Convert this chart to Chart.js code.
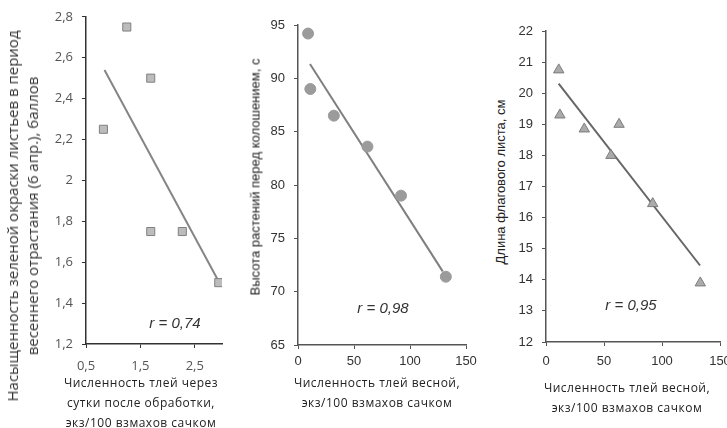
<!DOCTYPE html>
<html>
<head>
<meta charset="utf-8">
<script src="https://cdn.jsdelivr.net/npm/chart.js@4.4.1/dist/chart.umd.min.js"></script>
<style>
  body { margin: 0; width: 727px; height: 428px; overflow: hidden; background: #fff; position: relative; }
  canvas { position: absolute; top: 0; }
  .t { position: absolute; white-space: nowrap; color: #222; line-height: 1; }
  .rot { transform: translate(-50%, -50%) rotate(-90deg); text-align: center; }
  .xt { transform: translateX(-50%); text-align: center; font-family: 'Open Sans'; font-size: 12px; line-height: 20px; letter-spacing: 0.5px; }
  .r { font-family: 'Liberation Sans', Arial; font-style: italic; font-size: 15px; color: #333; transform: translate(-50%, -50%); }
</style>
</head>
<body>
<canvas id="c1" width="200" height="428" style="left:40px"></canvas>
<canvas id="c2" width="220" height="428" style="left:262px"></canvas>
<canvas id="c3" width="232" height="428" style="left:508px"></canvas>

<div class="t rot" style="left:22px;top:216px;font-family:'Open Sans';font-size:15px;line-height:20px;color:#333">Насыщенность зеленой окраски листьев в период<br>весеннего отрастания (6 апр.), баллов</div>
<div class="t xt" style="left:141px;top:373px">Численность тлей через<br>сутки после обработки,<br>экз/100 взмахов сачком</div>
<div class="t r" style="left:175px;top:322px">r = 0,74</div>

<div class="t rot" style="left:255px;top:177px;font-family:'Liberation Sans',Arial;font-size:13px">Высота растений перед колошением, с</div>
<div class="t xt" style="left:377px;top:373px">Численность тлей весной,<br>экз/100 взмахов сачком</div>
<div class="t r" style="left:383px;top:307px">r = 0,98</div>

<div class="t rot" style="left:500px;top:182px;font-family:'Liberation Sans',Arial;font-size:13px">Длина флагового листа, см</div>
<div class="t xt" style="left:627px;top:378px">Численность тлей весной,<br>экз/100 взмахов сачком</div>
<div class="t r" style="left:631px;top:304px">r = 0,95</div>

<script>
// panel 1 — squares
const x1 = [0.82, 1.25, 1.69, 1.69, 2.27, 2.94];
const y1 = [2.25, 2.75, 2.50, 1.75, 1.75, 1.50];
const trend1X = [0.84, 2.91];
const trend1Y = [2.54, 1.52];
const xTicks1 = [0.5, 1.5, 2.5];
const xTickLabels1 = ['0,5', '1,5', '2,5'];
const yTicks1 = [1.2, 1.4, 1.6, 1.8, 2.0, 2.2, 2.4, 2.6, 2.8];
const yTickLabels1 = ['1,2', '1,4', '1,6', '1,8', '2', '2,2', '2,4', '2,6', '2,8'];

// panel 2 — circles
const x2 = [9, 11, 32, 62, 92, 132];
const y2 = [94.2, 89.0, 86.5, 83.6, 79.0, 71.4];
const trend2X = [10.7, 129.2];
const trend2Y = [91.35, 71.9];
const xTicks2 = [0, 50, 100, 150];
const xTickLabels2 = ['0', '50', '100', '150'];
const yTicks2 = [65, 70, 75, 80, 85, 90, 95];
const yTickLabels2 = ['65', '70', '75', '80', '85', '90', '95'];

// panel 3 — triangles
const x3 = [11, 12, 33, 63, 56, 92, 133];
const y3 = [20.75, 19.3, 18.85, 19.0, 18.0, 16.45, 13.9];
const trend3X = [10.9, 132.8];
const trend3Y = [20.31, 14.46];
const xTicks3 = [0, 50, 100, 150];
const xTickLabels3 = ['0', '50', '100', '150'];
const yTicks3 = [12, 13, 14, 15, 16, 17, 18, 19, 20, 21, 22];
const yTickLabels3 = ['12', '13', '14', '15', '16', '17', '18', '19', '20', '21', '22'];

const pts = (xs, ys) => xs.map((x, i) => ({ x: x, y: ys[i] }));

function makePanel(id, p) {
  const ctx = document.getElementById(id).getContext('2d');
  const tickFont = { family: p.font, size: 13 };
  return new Chart(ctx, {
    type: 'scatter',
    data: {
      datasets: [
        {
          data: pts(p.tx, p.ty),
          showLine: true,
          borderColor: p.lineColor,
          borderWidth: 2,
          pointRadius: 0,
          order: 2
        },
        {
          data: pts(p.x, p.y),
          pointStyle: p.style,
          pointRadius: p.radius,
          backgroundColor: p.fill,
          borderColor: p.stroke,
          borderWidth: 1,
          order: 1
        }
      ]
    },
    options: {
      responsive: false,
      animation: false,
      events: [],
      layout: { padding: { top: p.top, right: p.right, left: 0, bottom: 0 } },
      plugins: { legend: { display: false }, tooltip: { enabled: false } },
      scales: {
        x: {
          type: 'linear',
          min: p.xMin, max: p.xMax,
          afterBuildTicks: s => { s.ticks = p.xTicks.map(v => ({ value: v })); },
          afterFit: s => { s.height = 428 - p.bottom; },
          grid: { drawOnChartArea: false, tickLength: 4, color: p.axis },
          border: { color: p.axis, width: 1.5 },
          ticks: { font: tickFont, color: p.tickColor, padding: p.xPad, maxRotation: 0,
                   callback: (v, i) => p.xLabels[i] }
        },
        y: {
          type: 'linear',
          min: p.yMin, max: p.yMax,
          afterBuildTicks: s => { s.ticks = p.yTicks.map(v => ({ value: v })); },
          afterFit: s => { s.width = p.left; },
          grid: { drawOnChartArea: false, tickLength: 4, color: p.axis },
          border: { color: p.axis, width: 1.5 },
          ticks: { font: tickFont, color: p.tickColor, padding: 9,
                   callback: (v, i) => p.yLabels[i] }
        }
      }
    }
  });
}

makePanel('c1', {
  x: x1, y: y1, tx: trend1X, ty: trend1Y,
  xMin: 0.5, xMax: 3, yMin: 1.2, yMax: 2.8,
  xTicks: xTicks1, xLabels: xTickLabels1, yTicks: yTicks1, yLabels: yTickLabels1,
  style: 'rect', radius: 5.7, fill: '#bcbcbc', stroke: '#808080',
  lineColor: '#858585', axis: '#333', tickColor: '#555', font: 'Open Sans',
  left: 46, top: 15, right: 18, bottom: 344, xPad: 10
});

makePanel('c2', {
  x: x2, y: y2, tx: trend2X, ty: trend2Y,
  xMin: 0, xMax: 150, yMin: 65, yMax: 95,
  xTicks: xTicks2, xLabels: xTickLabels2, yTicks: yTicks2, yLabels: yTickLabels2,
  style: 'circle', radius: 5.5, fill: '#9b9b9b', stroke: '#9b9b9b',
  lineColor: '#7f7f7f', axis: '#555', tickColor: '#333', font: 'Liberation Sans',
  left: 36, top: 25, right: 16, bottom: 345, xPad: 5
});

makePanel('c3', {
  x: x3, y: y3, tx: trend3X, ty: trend3Y,
  xMin: 0, xMax: 150, yMin: 12, yMax: 22,
  xTicks: xTicks3, xLabels: xTickLabels3, yTicks: yTicks3, yLabels: yTickLabels3,
  style: 'triangle', radius: 6, fill: '#ababab', stroke: '#7c7c7c',
  lineColor: '#666', axis: '#555', tickColor: '#333', font: 'Liberation Sans',
  left: 38, top: 31, right: 20, bottom: 342, xPad: 8
});
</script>
</body>
</html>
